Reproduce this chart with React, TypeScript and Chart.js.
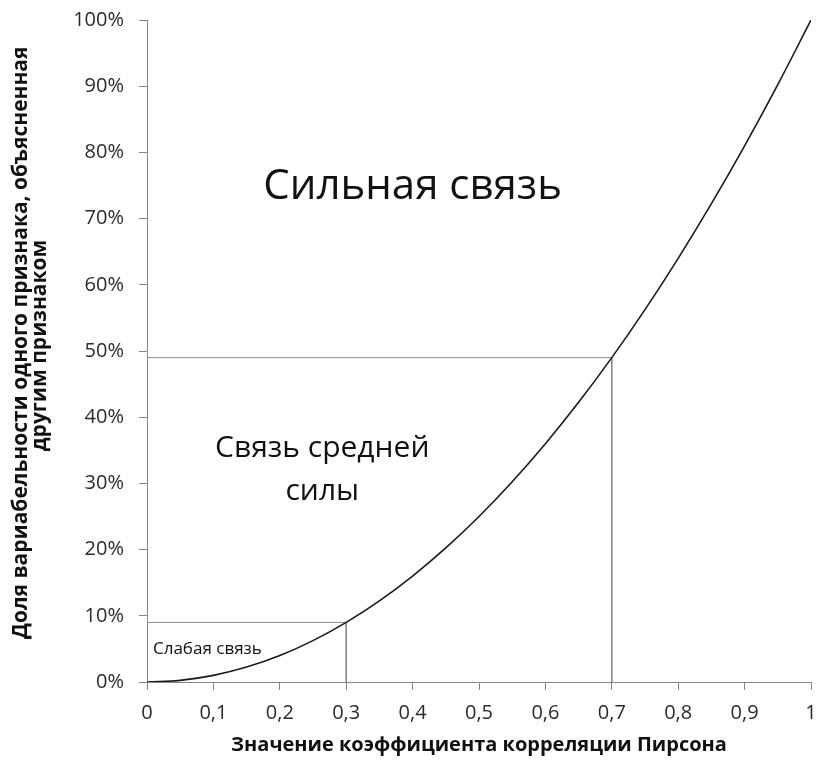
import React, { useEffect, useRef } from "react";
import { Chart, registerables } from "chart.js";

Chart.register(...registerables);

// Pearson r (x) and share of explained variance, % (y)
const rValues = [0, 0.05, 0.1, 0.15, 0.2, 0.25, 0.3, 0.35, 0.4, 0.45, 0.5, 0.55, 0.6, 0.65, 0.7, 0.75, 0.8, 0.85, 0.9, 0.95, 1];
const sharePct = [0, 0.25, 1, 2.25, 4, 6.25, 9, 12.25, 16, 20.25, 25, 30.25, 36, 42.25, 49, 56.25, 64, 72.25, 81, 90.25, 100];

// threshold guide lines
const weakR = 0.3;
const weakShare = 9;
const strongR = 0.7;
const strongShare = 49;

const yTitle = ["   Доля вариабельности одного признака, объясненная", "  другим признаком"];
const xTitle = "Значение коэффициента корреляции Пирсона";

const FONT = "'Open Sans', sans-serif";

const regionLabels = [
  { lines: ["Сильная связь"], x: 0.4, y: 74.7, size: 42, align: "center" as CanvasTextAlign, gap: 0 },
  { lines: ["Связь средней", "силы"], x: 0.264, y: 35.3, size: 30, align: "center" as CanvasTextAlign, gap: 43 },
  { lines: ["Слабая связь"], x: 0.009, y: 5.0, size: 17, align: "left" as CanvasTextAlign, gap: 0 },
];

const labelPlugin = {
  id: "regionLabels",
  afterDatasetsDraw(chart: any) {
    const ctx = chart.ctx as CanvasRenderingContext2D;
    const xs = chart.scales.x;
    const ys = chart.scales.y;
    ctx.save();
    ctx.fillStyle = "#111111";
    ctx.textBaseline = "middle";
    for (const l of regionLabels) {
      ctx.font = `${l.size}px ${FONT}`;
      ctx.textAlign = l.align;
      const px = xs.getPixelForValue(l.x);
      const py = ys.getPixelForValue(l.y);
      l.lines.forEach((t, i) => ctx.fillText(t, px, py + i * l.gap));
    }
    ctx.restore();
  },
};

export default function App() {
  const ref = useRef<HTMLCanvasElement>(null);
  useEffect(() => {
    if (!ref.current) return;
    const axisColor = "#868686";
    const chart = new Chart(ref.current, {
      type: "line",
      data: {
        datasets: [
          {
            data: rValues.map((r, i) => ({ x: r, y: sharePct[i] })),
            borderColor: "#1a1a1a",
            borderWidth: 1.6,
            pointRadius: 0,
            tension: 0.4,
            fill: false,
          },
          {
            data: [
              { x: 0, y: weakShare },
              { x: weakR, y: weakShare },
              { x: weakR, y: 0 },
            ],
            borderColor: "#8a8a8a",
            borderWidth: 1,
            pointRadius: 0,
            tension: 0,
          },
          {
            data: [
              { x: 0, y: strongShare },
              { x: strongR, y: strongShare },
              { x: strongR, y: 0 },
            ],
            borderColor: "#8a8a8a",
            borderWidth: 1,
            pointRadius: 0,
            tension: 0,
          },
        ],
      },
      options: {
        animation: false,
        responsive: false,
        maintainAspectRatio: false,
        layout: { padding: { top: 20, right: 0, left: 0, bottom: 0 } },
        plugins: { legend: { display: false }, tooltip: { enabled: false } },
        scales: {
          x: {
            type: "linear",
            min: 0,
            max: 1,
            grid: { display: true, drawOnChartArea: false, drawTicks: true, tickLength: 8, color: axisColor },
            border: { display: true, color: axisColor },
            ticks: {
              stepSize: 0.1,
              padding: 11,
              color: "#2b2b2b",
              font: { family: FONT, size: 20 },
              maxRotation: 0,
              callback: (v: any) => String(Math.round(Number(v) * 10) / 10).replace(".", ","),
            },
            title: {
              display: true,
              text: xTitle,
              color: "#111111",
              font: { family: FONT, size: 20, weight: "bold" },
              padding: { top: 0, bottom: 3 },
            },
            afterFit: (s: any) => {
              s.height = 78;
              s.paddingRight = 7;
              s.paddingLeft = 0;
            },
          },
          y: {
            min: 0,
            max: 100,
            grid: { display: true, drawOnChartArea: false, drawTicks: true, tickLength: 8, color: axisColor },
            border: { display: true, color: axisColor },
            ticks: {
              stepSize: 10,
              padding: 15,
              color: "#2b2b2b",
              font: { family: FONT, size: 20 },
              callback: (v: any) => `${v}%`,
            },
            title: {
              display: true,
              text: yTitle,
              color: "#111111",
              font: { family: FONT, size: 21, weight: "bold", lineHeight: 0.9 },
              padding: { top: 12, bottom: 0 },
            },
            afterFit: (s: any) => {
              s.width = 147;
              s.paddingTop = 0;
            },
          },
        },
      },
      plugins: [labelPlugin],
    } as any);
    return () => chart.destroy();
  }, []);
  return (
    <div style={{ position: "fixed", left: 0, top: 0, width: 818, height: 760, background: "#fff", overflow: "hidden" }}>
      <canvas ref={ref} width={818} height={760} style={{ display: "block" }} />
    </div>
  );
}
